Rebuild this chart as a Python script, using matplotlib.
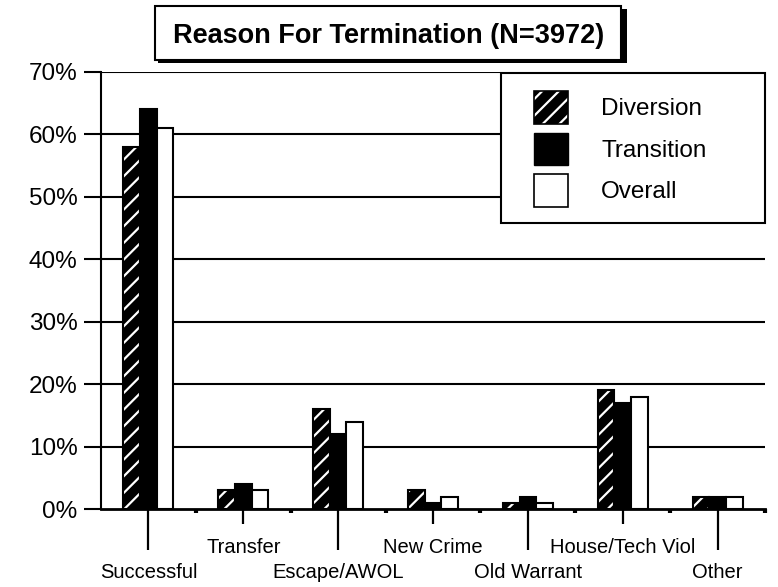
import matplotlib
matplotlib.use("Agg")
import matplotlib.pyplot as plt
from matplotlib.patches import Rectangle, Patch
from matplotlib.legend_handler import HandlerTuple
import numpy as np

categories = ["Successful", "Transfer", "Escape/AWOL", "New Crime",
              "Old Warrant", "House/Tech Viol", "Other"]
diversion = [58, 3, 16, 3, 1, 19, 2]
transition = [64, 4, 12, 1, 2, 17, 2]
overall = [61, 3, 14, 2, 1, 18, 2]
y_ticks = [0, 10, 20, 30, 40, 50, 60, 70]
y_labels = ["0%", "10%", "20%", "30%", "40%", "50%", "60%", "70%"]
series_names = ["Diversion", "Transition", "Overall"]
title = "Reason For Termination (N=3972)"

plt.rcParams['font.family'] = ['Liberation Sans', 'DejaVu Sans']
plt.rcParams['hatch.linewidth'] = 1.6

W, H = 778, 587
fig = plt.figure(figsize=(W / 100, H / 100), dpi=100)
ax = fig.add_axes([101 / W, 1 - 509 / H, 664 / W, 437 / H])

x = np.arange(len(categories))
w = 0.176

# gridlines
for v in y_ticks[1:]:
    ax.axhline(v, color='black', lw=1.5, zorder=1)

# Diversion: black with white hatch, then black outline
ax.bar(x - w, diversion, w, color='black', edgecolor='white', hatch='//',
       linewidth=0, zorder=2)
ax.bar(x - w, diversion, w, fill=False, edgecolor='black', linewidth=1.5, zorder=3)
ax.bar(x, transition, w, color='black', edgecolor='black', linewidth=1.5, zorder=3)
ax.bar(x + w, overall, w, color='white', edgecolor='black', linewidth=1.5, zorder=3)

ax.set_xlim(-0.5, len(categories) - 0.5)
ax.set_ylim(0, 70)
ax.set_yticks(y_ticks, y_labels)
ax.tick_params(axis='y', length=12, width=1.5, pad=5, labelsize=17.5, direction='out')

for s in ['top', 'right']:
    ax.spines[s].set_visible(False)
ax.spines['left'].set_linewidth(1.5)
ax.spines['bottom'].set_linewidth(2.0)
ax.spines['bottom'].set_zorder(4)

ax.set_xticks(x, categories)
ax.set_xticks(np.arange(1, len(categories) + 1) - 0.5, minor=True)
ax.tick_params(axis='x', which='major', labelsize=14.5, width=1.6, direction='out')
ax.tick_params(axis='x', which='minor', length=3, width=3, direction='out')
for i, t in enumerate(ax.xaxis.get_major_ticks()):
    if i % 2 == 0:
        t._apply_params(size=29.5, pad=9.5)
    else:
        t._apply_params(size=10.8, pad=10)

# legend frame
fig.patches.append(Rectangle((501 / W, 1 - 223 / H), 264 / W, 150 / H,
                             transform=fig.transFigure, facecolor='white',
                             edgecolor='black', linewidth=1.5, zorder=3))
handles = [(Patch(facecolor='black', edgecolor='white', hatch='//', linewidth=0),
            Patch(fill=False, edgecolor='black', linewidth=1.2)),
           Patch(facecolor='black', edgecolor='black'),
           Patch(facecolor='white', edgecolor='black', linewidth=1.2)]
leg = fig.legend(handles, series_names, loc='upper left',
                 bbox_to_anchor=(534 / W, 1 - 91 / H),
                 bbox_transform=fig.transFigure,
                 handler_map={tuple: HandlerTuple(ndivide=1)},
                 fontsize=17.5, frameon=False,
                 handlelength=1.38, handleheight=1.7, borderpad=0,
                 labelspacing=0.36, handletextpad=1.38, borderaxespad=0)
leg.set_zorder(6)

# title box with shadow
fig.patches.append(Rectangle((158 / W, 1 - 63 / H), 469 / W, 54 / H,
                             transform=fig.transFigure, facecolor='black',
                             edgecolor='none', zorder=5))
fig.patches.append(Rectangle((155 / W, 1 - 60 / H), 466 / W, 54 / H,
                             transform=fig.transFigure, facecolor='white',
                             edgecolor='black', linewidth=1.5, zorder=6))
fig.text(389 / W, 1 - 36 / H, title, ha='center', va='center',
         fontsize=19.5, fontweight='bold', zorder=7)

fig.savefig("out.png", dpi=100)
